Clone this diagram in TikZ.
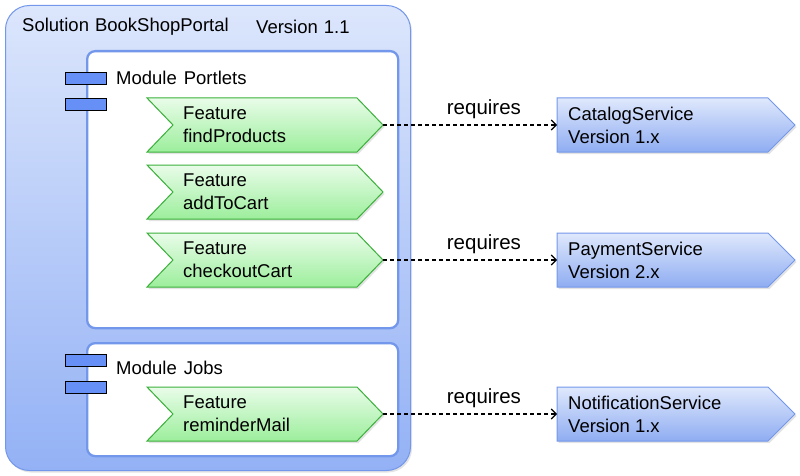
\documentclass[tikz,border=0pt]{standalone}
\usepackage{fontspec}
\setmainfont{Liberation Sans}
\usetikzlibrary{arrows.meta,shadows}
\definecolor{solTop}{HTML}{DCE6FC}
\definecolor{solBot}{HTML}{93B1F5}
\definecolor{blueLine}{HTML}{7397EA}
\definecolor{featTop}{HTML}{E9FCE9}
\definecolor{featBot}{HTML}{9CEE9C}
\definecolor{featLine}{HTML}{3AB03A}
\definecolor{servTop}{HTML}{DFE8FC}
\definecolor{servBot}{HTML}{8FADF2}
\definecolor{portBlue}{HTML}{6690F5}
\begin{document}
\begin{tikzpicture}[x=1pt,y=-1pt,
  every node/.style={font=\fontsize{18.5}{23}\selectfont, inner sep=0pt},
  softshadow/.style={drop shadow={opacity=0.22, shadow xshift=1.5pt, shadow yshift=-2pt}},
  solution/.style={draw=blueLine, line width=1pt, rounded corners=24pt, top color=solTop, bottom color=solBot, softshadow},
  module/.style={draw=blueLine, line width=2.3pt, rounded corners=8pt, fill=white},
  port/.style={draw=black, line width=0.8pt, fill=portBlue, minimum width=41pt, minimum height=12pt, anchor=north west},
  featshape/.style={draw=featLine, line width=1pt, top color=featTop, bottom color=featBot, softshadow},
  servshape/.style={draw=blueLine, line width=1pt, top color=servTop, bottom color=servBot, softshadow},
  lbl/.style={anchor=west, align=left},
  reqlbl/.style={font=\fontsize{20.5}{24}\selectfont},
  requires/.style={draw, line width=1.1pt, dash pattern=on 4pt off 3pt, -{Straight Barb[length=5pt,width=10pt]}},
  pics/feat/.style={code={
    \path[featshape] (0,0) -- (210,0) -- (236,27) -- (210,54) -- (0,54) -- (26,27) -- cycle;
    \coordinate (-tip) at (236,27);
    \node[lbl] (-text) at (36,27) {Feature\\#1};
  }},
  pics/serv/.style 2 args={code={
    \path[servshape] (0,0) -- (211,0) -- (238,27) -- (211,54) -- (0,54) -- cycle;
    \coordinate (-in) at (0,27);
    \node[lbl] (-text) at (11,27) {#1\\Version #2};
  }}
]
\useasboundingbox (0,0) rectangle (800,476);

% solution container
\node[solution, minimum width=405pt, minimum height=465pt, anchor=north west] (sol) at (5,5) {};
\node[lbl] (soltitle) at (22,27) {Solution\hspace{6pt}BookShopPortal};
\node[lbl] (solver) at (256,27) {Version\hspace{6pt}1.1};

% modules
\node[module, minimum width=311pt, minimum height=277pt, anchor=north west] (modP) at (86,50) {};
\node[module, minimum width=311pt, minimum height=113pt, anchor=north west] (modJ) at (86,342) {};

\node[port] (pP1) at (65,72) {};
\node[port] (pP2) at (65,98) {};
\node[port] (pJ1) at (65,354) {};
\node[port] (pJ2) at (65,381) {};

\node[lbl] (modPlbl) at (116,78) {Module\hspace{7pt}Portlets};
\node[lbl] (modJlbl) at (116,368) {Module\hspace{7pt}Jobs};

% features
\pic (f1) at (147,98) {feat=findProducts};
\pic (f2) at (147,165) {feat=addToCart};
\pic (f3) at (147,233) {feat=checkoutCart};
\pic (f4) at (147,387) {feat=reminderMail};

% services
\pic (s1) at (557,98) {serv={CatalogService}{1.x}};
\pic (s2) at (557,233) {serv={PaymentService}{2.x}};
\pic (s3) at (557,387) {serv={NotificationService}{1.x}};

% dependencies
\draw[requires] (f1-tip) -- node[reqlbl, pos=0.58, above=6pt] (r1) {requires} (s1-in);
\draw[requires] (f3-tip) -- node[reqlbl, pos=0.58, above=6pt] (r2) {requires} (s2-in);
\draw[requires] (f4-tip) -- node[reqlbl, pos=0.58, above=6pt] (r3) {requires} (s3-in);
\end{tikzpicture}
\end{document}
